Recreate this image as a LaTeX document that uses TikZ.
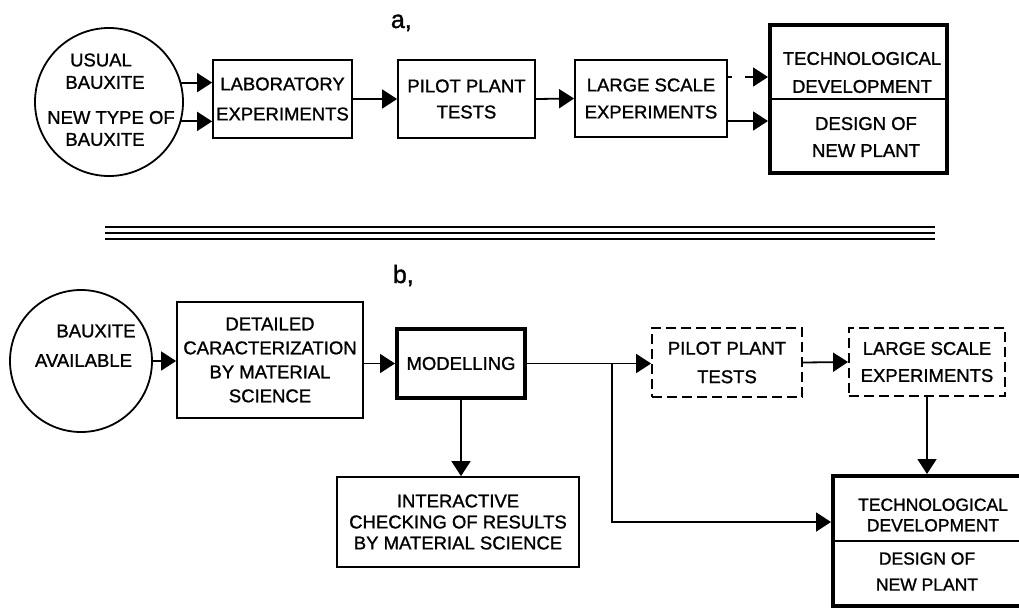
\documentclass[tikz,border=0pt]{standalone}
\usepackage{fontspec}
\setmainfont{Liberation Sans}[FakeBold=1.2]
\usetikzlibrary{arrows.meta}
\begin{document}
\begin{tikzpicture}[x=1pt,y=-1pt,line width=1.8pt,
  arr/.style={-{Triangle[length=15pt,width=19pt]},line width=1.8pt},
  box/.style n args={2}{draw,line width=1.8pt,inner sep=0pt,align=center,
    minimum width=#1,minimum height=#2},
  dashbox/.style={dash pattern=on 10pt off 5pt},
  heavy/.style={line width=4pt},
  lead/.style={font=\fontsize{18.5}{#1}\selectfont,align=center,inner sep=0pt},
  leadsm/.style={font=\fontsize{17.5}{#1}\selectfont,align=center,inner sep=0pt},
  word/.style={font=\fontsize{18.5}{18.5}\selectfont,inner sep=0pt},
  tag/.style={font=\fontsize{25}{25}\selectfont,anchor=base west,inner sep=0pt}]
\useasboundingbox (0,0) rectangle (1019,608);

% ---------- scheme a ----------
\node[tag] (taga) at (390,28) {a,};

\node[draw,circle,minimum size=148pt,inner sep=0pt] (circA) at (109,102) {};
\node[word] (usual) at (101,60) {USUAL};
\node[word] (bauxA1) at (105,82.5) {BAUXITE};
\node[word] (newtype) at (111,117.5) {NEW TYPE OF};
\node[word] (bauxA2) at (105,139.5) {BAUXITE};

\node[box={139pt}{78pt},lead=30] (lab) at (282.5,99) {LABORATORY\\EXPERIMENTS};
\node[box={137pt}{78pt},lead=26] (pilotA) at (466.5,99) {PILOT PLANT\\TESTS};
\node[box={152pt}{77pt},lead=27] (largeA) at (651,98.5) {LARGE SCALE\\EXPERIMENTS};
\node[box={177pt}{148pt},heavy] (techA) at (858.5,99) {};
\draw (techA.west) -- (techA.east);
\node[lead=28] (techAt) at (862,72.5) {TECHNOLOGICAL\\DEVELOPMENT};
\node[lead=27] (techAb) at (866,137) {DESIGN OF\\NEW PLANT};

\draw[arr] (circA.15) -- (circA.15 -| lab.west);
\draw[arr] (circA.-15) -- (circA.-15 -| lab.west);
\draw[arr] (lab.east) -- (pilotA.west);
\draw[arr] (pilotA.east) -- (largeA.west);
\coordinate (stubA) at ([yshift=21.5pt]largeA.east);
\draw (stubA) -- ++(4,0);
\coordinate (gapA) at (745,77);
\draw[arr] (gapA) -- (gapA -| techA.west);
\coordinate (lowA) at ([yshift=-22.5pt]largeA.east);
\draw[arr] (lowA) -- (lowA -| techA.west);

% ---------- separator ----------
\foreach \yy in {227,233,239}
  \draw[line width=1.3pt] (105,\yy) -- (935,\yy);

% ---------- scheme b ----------
\node[tag] (tagb) at (392,283) {b,};

\node[draw,circle,minimum size=142pt,inner sep=0pt] (circB) at (81,361) {};
\node[word] (bauxB) at (96,331) {BAUXITE};
\node[word] (avail) at (83.5,360.5) {AVAILABLE};

\node[box={186pt}{116pt},lead=24] (det) at (270,360)
  {DETAILED\\CARACTERIZATION\\BY MATERIAL\\SCIENCE};
\node[box={128pt}{69pt},heavy,lead=20] (mod) at (461,363.5) {MODELLING};
\node[box={150pt}{69pt},dashbox,lead=28.5] (pilotB) at (727,362.5) {PILOT PLANT\\TESTS};
\node[box={156pt}{68pt},dashbox,lead=27] (largeB) at (927,362) {LARGE SCALE\\EXPERIMENTS};
\node[box={242pt}{90pt},lead=21] (intr) at (458,522)
  {INTERACTIVE\\CHECKING OF RESULTS\\BY MATERIAL SCIENCE};
\node[box={192pt}{130pt},heavy] (techB) at (929,541) {};
\draw (techB.west) -- (techB.east);
\node[leadsm=20.5] (techBt) at (933,515) {TECHNOLOGICAL\\DEVELOPMENT};
\node[leadsm=26] (techBb) at (927,571.5) {DESIGN OF\\NEW PLANT};

\draw[arr] (circB.east) -- (circB.east -| det.west);
\draw[arr] (det.east |- mod.west) -- (mod.west);
\draw[arr] (mod.east) -- (mod.east -| pilotB.west);
\path (mod.east) ++(85,0) coordinate (J);
\draw[arr] (J) |- (intr.east -| techB.west);
\draw[arr] (mod.south) -- (mod.south |- intr.north);
\draw[arr] (pilotB.east) -- (largeB.west);
\draw[arr] (largeB.south) -- (largeB.south |- techB.north);
\end{tikzpicture}
\end{document}
